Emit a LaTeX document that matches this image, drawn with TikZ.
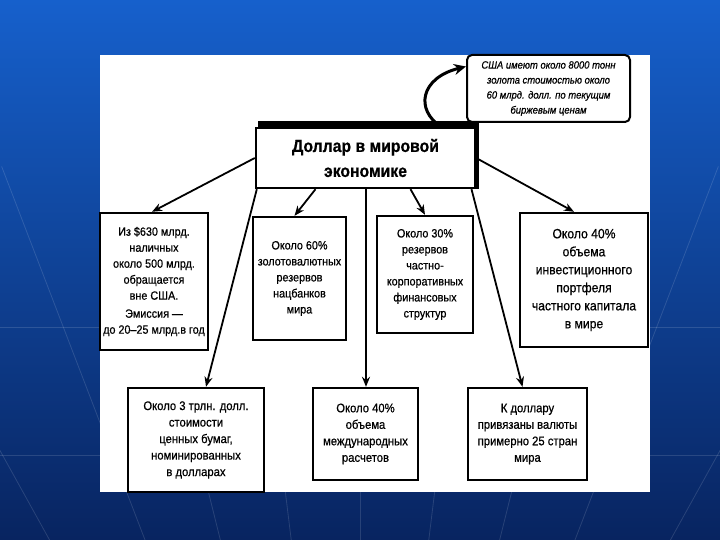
\documentclass[tikz,border=0pt]{standalone}
\usepackage{fontspec}
\setmainfont{Liberation Sans}
\newfontfamily\nar{Liberation Sans}[FakeStretch=0.9,FakeBold=0.6]
\usetikzlibrary{arrows.meta,calc}
\begin{document}
\begin{tikzpicture}[x=1pt,y=-1pt,
  box/.style={draw=black,line width=2.4pt,fill=white,align=center,inner sep=2pt,
    font=\nar\fontsize{12}{16}\selectfont},
  arr/.style={line width=1.8pt,-{Stealth[length=10pt,width=8pt]}}]
\useasboundingbox (0,0) rectangle (720,540);
\shade[top color={rgb,255:red,22;green,96;blue,204},bottom color={rgb,255:red,8;green,36;blue,96}] (0,0) rectangle (720,540);
\begin{scope}
\clip (0,0) rectangle (720,540);
\foreach \a in {-60,-48,-38,-29,-21,-14,-7,0,7,14,21,29,38,48,60}
  \draw[white,opacity=0.13,line width=0.8pt] (360,1100) -- ++({90+\a}:-1000);
\draw[white,opacity=0.13,line width=0.8pt] (0,327) -- (720,327);
\draw[white,opacity=0.13,line width=0.8pt] (0,455) -- (720,455);
\end{scope}
\fill[white] (100,55) rectangle (650,492);

\node[box,minimum width=219pt,minimum height=60pt,font=\nar\bfseries\fontsize{17.5}{25}\selectfont] (c) at (365.5,158) {Доллар в мировой\\экономике};
\fill[black] ([xshift=3pt,yshift=6pt]c.north west) rectangle ([xshift=-1pt]c.north east);
\fill[black] ([xshift=-1pt,yshift=6pt]c.north east) rectangle ([xshift=3pt]c.south east);

\node[box,rounded corners=5pt,line width=2pt,minimum width=163pt,minimum height=67pt,font=\nar\itshape\fontsize{10.5}{15}\selectfont] (t) at (548.5,88.5) {США имеют около 8000 тонн\\золота стоимостью около\\60 млрд. долл. по текущим\\биржевым ценам};

\node[box,minimum width=108pt,minimum height=137pt] (b1) at (154,281.5) {Из \$630 млрд.\\наличных\\около 500 млрд.\\обращается\\вне США.\\[2pt]Эмиссия —\\до 20–25 млрд.в год};
\node[box,minimum width=93pt,minimum height=123pt] (b2) at (299.5,278.5) {Около 60\%\\золотовалютных\\резервов\\нацбанков\\мира};
\node[box,minimum width=96pt,minimum height=117pt] (b3) at (425,274.5) {Около 30\%\\резервов\\частно-\\корпоративных\\финансовых\\структур};
\node[box,minimum width=128pt,minimum height=134pt,font=\nar\fontsize{13.5}{18}\selectfont] (b4) at (584,280) {Около 40\%\\объема\\инвестиционного\\портфеля\\частного капитала\\в мире};
\node[box,minimum width=136pt,minimum height=104pt,font=\nar\fontsize{12.5}{16.5}\selectfont] (b5) at (196,440) {Около 3 трлн. долл.\\стоимости\\ценных бумаг,\\номинированных\\в долларах};
\node[box,minimum width=105pt,minimum height=92pt,font=\nar\fontsize{12.5}{16.5}\selectfont] (b6) at (365.5,434) {Около 40\%\\объема\\международных\\расчетов};
\node[box,minimum width=119pt,minimum height=92pt,font=\nar\fontsize{12.5}{16.5}\selectfont] (b7) at (527.5,434) {К доллару\\привязаны валюты\\примерно 25 стран\\мира};

\draw[arr] (c.west) -- ([xshift=-2pt]b1.north);
\draw[arr] ([xshift=-50pt]c.south) -- ([xshift=-5pt]b2.north);
\draw[arr] ([xshift=2pt]c.south west) -- ([xshift=10pt]b5.north);
\draw[arr] ([xshift=0.5pt]c.south) -- ([xshift=0.5pt]b6.north);
\draw[arr] ([xshift=45pt]c.south) -- (b3.north);
\draw[arr] ([xshift=106pt]c.south) -- ([xshift=-5pt]b7.north);
\draw[arr] (c.east) -- ([xshift=-10pt]b4.north);
\draw[line width=3pt,-{Stealth[length=12pt,width=11pt]}] ([xshift=-35pt]c.north east) .. controls (415,110) and (420,78) .. ([yshift=22pt]t.west);
\end{tikzpicture}
\end{document}
